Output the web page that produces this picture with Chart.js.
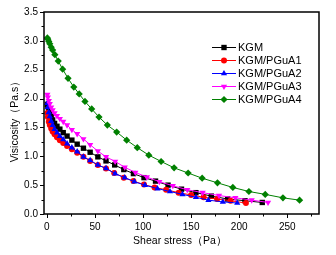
<!DOCTYPE html>
<html><head><meta charset="utf-8">
<script src="https://cdn.jsdelivr.net/npm/chart.js@4"></script>
<style>html,body{margin:0;padding:0;background:#fff}#c{display:block}</style>
</head><body>
<canvas id="c" width="336" height="255"></canvas>
<script>
const seriesNames = ["KGM","KGM/PGuA1","KGM/PGuA2","KGM/PGuA3","KGM/PGuA4"];
const kgmX = [0.5,1,2,3,4.5,6,8,10.5,13.5,17,21,26,31.5,38,45,53,61.5,70.5,80,90,101,113,126,140,155,171,188,206,224];
const kgmY = [1.90,1.86,1.80,1.75,1.69,1.63,1.57,1.52,1.47,1.41,1.35,1.28,1.21,1.14,1.07,0.99,0.92,0.85,0.77,0.70,0.63,0.57,0.50,0.43,0.37,0.31,0.26,0.23,0.20];
const pgua1X = [0.5,1,2,3,4.5,6,8,10.5,13.5,17,21,26,31.5,38,45,53,61.5,70,80,90,101,112,124,137,150,163,177,191,207];
const pgua1Y = [1.75,1.68,1.60,1.54,1.48,1.43,1.38,1.33,1.28,1.23,1.18,1.12,1.06,0.99,0.92,0.85,0.79,0.71,0.63,0.57,0.51,0.46,0.42,0.37,0.33,0.29,0.26,0.23,0.19];
const pgua2X = [0.5,1,2,3,4.5,6,8,10.5,13.5,17,21,26,31.5,38,45,53,61.5,71,81,91,102,115,128,141,155,168,183,198];
const pgua2Y = [1.92,1.85,1.76,1.69,1.61,1.54,1.47,1.41,1.35,1.29,1.22,1.15,1.08,0.99,0.93,0.85,0.79,0.70,0.63,0.56,0.50,0.44,0.39,0.34,0.29,0.24,0.21,0.19];
const pgua3X = [0.5,1,2,3,4.5,6,8,10.5,13.5,17,21,26,31.5,38,45,53,61.5,71,81,92,104,117,131,146,162,179,196,213,230];
const pgua3Y = [2.07,2.02,1.96,1.91,1.85,1.80,1.75,1.70,1.65,1.60,1.54,1.46,1.39,1.30,1.20,1.09,0.99,0.91,0.81,0.72,0.64,0.56,0.49,0.42,0.37,0.32,0.28,0.24,0.20];
const pgua4X = [0.5,1,2,3,4.5,6,8.3,11.8,16.4,22,28,33.6,39.6,46.6,54.2,62.9,72.6,83,94,106,118.8,132.3,146.9,161.5,177.4,193.4,210.1,227.1,245.5,262.8];
const pgua4Y = [3.05,3.03,2.99,2.95,2.89,2.84,2.76,2.65,2.51,2.35,2.20,2.08,1.95,1.82,1.68,1.54,1.42,1.28,1.15,1.02,0.91,0.80,0.71,0.62,0.54,0.46,0.39,0.34,0.28,0.24];
const xTicks = [0,50,100,150,200,250];
const xMinor = [25,75,125,175,225,275];
const yTicks = [0,0.5,1.0,1.5,2.0,2.5,3.0,3.5];
const yMinor = [0.25,0.75,1.25,1.75,2.25,2.75,3.25];
const xTitle = "Shear stress（Pa）";
const yTitle = "Visicosity（Pa.s）";

const colors = ["#000000","#ff0000","#0000ff","#ff00ff","#008000"];
const styles = ["rect","circle","triangle","triangle","rectRot"];
const rots = [0,0,0,180,0];
const radii = [3.8,3,3.6,3.6,3.6];
const xs = [kgmX,pgua1X,pgua2X,pgua3X,pgua4X];
const ys = [kgmY,pgua1Y,pgua2Y,pgua3Y,pgua4Y];

const datasets = seriesNames.map((n,i)=>({
  label:n,
  data: xs[i].map((x,j)=>({x:x,y:ys[i][j]})),
  borderColor: colors[i], backgroundColor: colors[i],
  borderWidth: 1, pointStyle: styles[i], pointRotation: rots[i],
  pointRadius: radii[i], pointBorderWidth: 0, showLine: true, tension: 0,
  order: 4 - i
}));

const FONT = "Arial, 'Liberation Sans', sans-serif";

const deco = {
  id:'deco',
  afterDraw(chart){
    const ctx = chart.ctx, a = chart.chartArea;
    const sx = chart.scales.x, sy = chart.scales.y;
    ctx.save();
    ctx.strokeStyle = '#000';
    ctx.lineWidth = 1.5;
    ctx.strokeRect(a.left, a.top, a.right-a.left, a.bottom-a.top);
    ctx.lineWidth = 1;
    ctx.beginPath();
    xTicks.forEach(v=>{const p=Math.round(sx.getPixelForValue(v))+0.5; ctx.moveTo(p,a.bottom); ctx.lineTo(p,a.bottom+4);});
    xMinor.forEach(v=>{const p=Math.round(sx.getPixelForValue(v))+0.5; ctx.moveTo(p,a.bottom); ctx.lineTo(p,a.bottom+2.5);});
    yTicks.forEach(v=>{const p=Math.round(sy.getPixelForValue(v))+0.5; ctx.moveTo(a.left,p); ctx.lineTo(a.left-4,p);});
    yMinor.forEach(v=>{const p=Math.round(sy.getPixelForValue(v))+0.5; ctx.moveTo(a.left,p); ctx.lineTo(a.left-2.5,p);});
    ctx.stroke();
    // titles
    ctx.fillStyle = '#000';
    ctx.font = "10.5px " + FONT;
    ctx.textAlign = 'center'; ctx.textBaseline = 'middle';
    ctx.fillText(xTitle, 180, 241);
    ctx.save();
    ctx.translate(15, 119);
    ctx.rotate(-Math.PI/2);
    ctx.fillText(yTitle, 0, 0);
    ctx.restore();
    // legend
    ctx.font = "11px " + FONT;
    ctx.textAlign = 'left';
    chart.data.datasets.forEach((d,i)=>{
      const yy = 47 + i*13;
      ctx.strokeStyle = d.borderColor; ctx.lineWidth = 1;
      ctx.beginPath(); ctx.moveTo(212, yy+0.5); ctx.lineTo(236, yy+0.5); ctx.stroke();
      ctx.fillStyle = d.backgroundColor;
      Chart.helpers.drawPoint(ctx, {pointStyle:d.pointStyle, rotation:d.pointRotation, radius:d.pointRadius, borderWidth:0}, 224, yy+0.5);
      ctx.fillStyle = '#000';
      ctx.fillText(d.label, 238, yy+1);
    });
    ctx.restore();
  }
};

new Chart(document.getElementById('c'), {
  type:'scatter',
  data:{datasets},
  options:{
    responsive:false, animation:false, devicePixelRatio:1,
    layout:{padding:{left:0,top:12,right:17,bottom:0}},
    plugins:{legend:{display:false}, tooltip:{enabled:false}},
    scales:{
      x:{type:'linear', min:-3, max:283,
        afterBuildTicks(s){s.ticks = xTicks.map(v=>({value:v}));},
        afterFit(s){s.height = 41;},
        grid:{display:false, drawTicks:false}, border:{display:false},
        ticks:{padding:7, color:'#000', font:{size:10, family:FONT}, maxRotation:0, autoSkip:false, callback:v=>String(v)}},
      y:{type:'linear', min:0, max:3.5,
        afterBuildTicks(s){s.ticks = yTicks.map(v=>({value:v}));},
        afterFit(s){s.width = 44;},
        grid:{display:false, drawTicks:false}, border:{display:false},
        ticks:{padding:6, color:'#000', font:{size:10, family:FONT}, autoSkip:false, callback:v=>Number(v).toFixed(1)}}
    }
  },
  plugins:[deco]
});
</script>
</body></html>
